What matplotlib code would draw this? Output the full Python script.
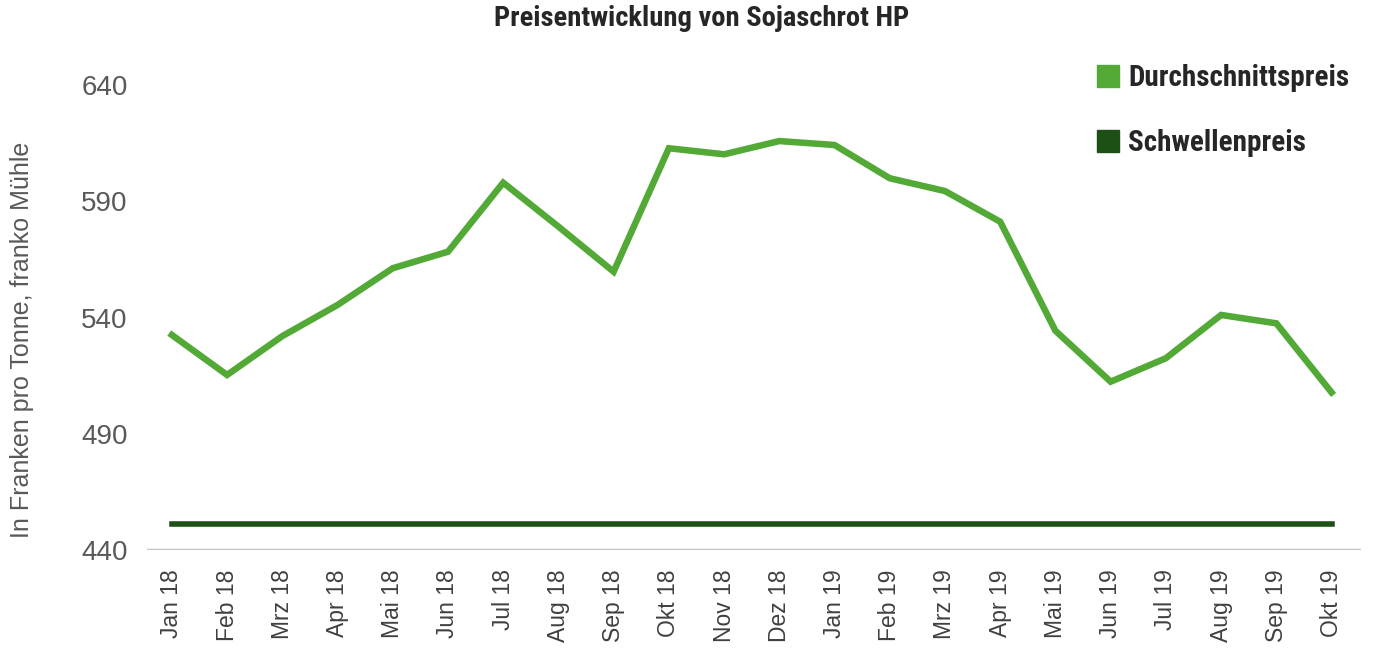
import matplotlib.pyplot as plt
from matplotlib.lines import Line2D

# monthly prices (Fr./t)
months = ['Jan 18', 'Feb 18', 'Mrz 18', 'Apr 18', 'Mai 18', 'Jun 18', 'Jul 18',
          'Aug 18', 'Sep 18', 'Okt 18', 'Nov 18', 'Dez 18', 'Jan 19', 'Feb 19',
          'Mrz 19', 'Apr 19', 'Mai 19', 'Jun 19', 'Jul 19', 'Aug 19', 'Sep 19', 'Okt 19']
avg_price = [532.5, 515.3, 532.0, 545.4, 561.2, 568.3, 598.0, 579.1, 559.7, 612.8, 610.2,
             615.9, 614.2, 599.9, 594.4, 581.2, 534.3, 512.4, 522.5, 541.1, 537.5, 507.8]
threshold = [451] * len(months)
yticks = [440, 490, 540, 590, 640]

light_green = '#52a936'
dark_green = '#1d4f16'
cond = 'Roboto Condensed'
plain = 'Liberation Sans'

fig = plt.figure(figsize=(14, 6.71), dpi=100)
ax = fig.add_axes([0.105, 0.1803, 0.867, 0.693])

x = list(range(len(months)))
ax.plot(x, avg_price, color=light_green, lw=4.7, solid_joinstyle='miter', clip_on=False)
ax.plot(x, threshold, color=dark_green, lw=4, clip_on=False)
ax.axhline(440, color='#c4c4c4', lw=2.5)

ax.set_xlim(-0.45, len(months) - 1 + 0.53)
ax.set_ylim(440, 640)
ax.set_yticks(yticks)
ax.set_xticks(x)
ax.set_xticklabels(months, rotation=90, fontsize=16.5, color='#404040', family=plain)
ax.set_yticklabels([str(v) for v in yticks], fontsize=20, color='#595959', family=plain)
ax.tick_params(axis='x', length=0, pad=14)
ax.tick_params(axis='y', length=0, pad=14)
for s in ax.spines.values():
    s.set_visible(False)

fig.text(0.5015, 0.973, 'Preisentwicklung von Sojaschrot HP', ha='center', va='center',
         fontsize=20.5, fontweight='bold', family=cond, color='#262626')
fig.text(0.016, 0.493, 'In Franken pro Tonne, franko Mühle', rotation=90, ha='center',
         va='center', fontsize=18, color='#595959', family=plain)

handles = [Line2D([], [], ls='none', marker='s', markersize=16, color=light_green),
           Line2D([], [], ls='none', marker='s', markersize=16, color=dark_green)]
leg = fig.legend(handles, ['Durchschnittspreis', 'Schwellenpreis'], loc='upper left',
                 bbox_to_anchor=(1097 / 1400, 1 - 64 / 671), frameon=False,
                 handlelength=0.76, handletextpad=0.3, labelspacing=1.28,
                 borderpad=0, borderaxespad=0,
                 prop={'family': cond, 'weight': 'bold', 'size': 21})
for t in leg.get_texts():
    t.set_color('#262626')

fig.savefig('out.png', dpi=100)
